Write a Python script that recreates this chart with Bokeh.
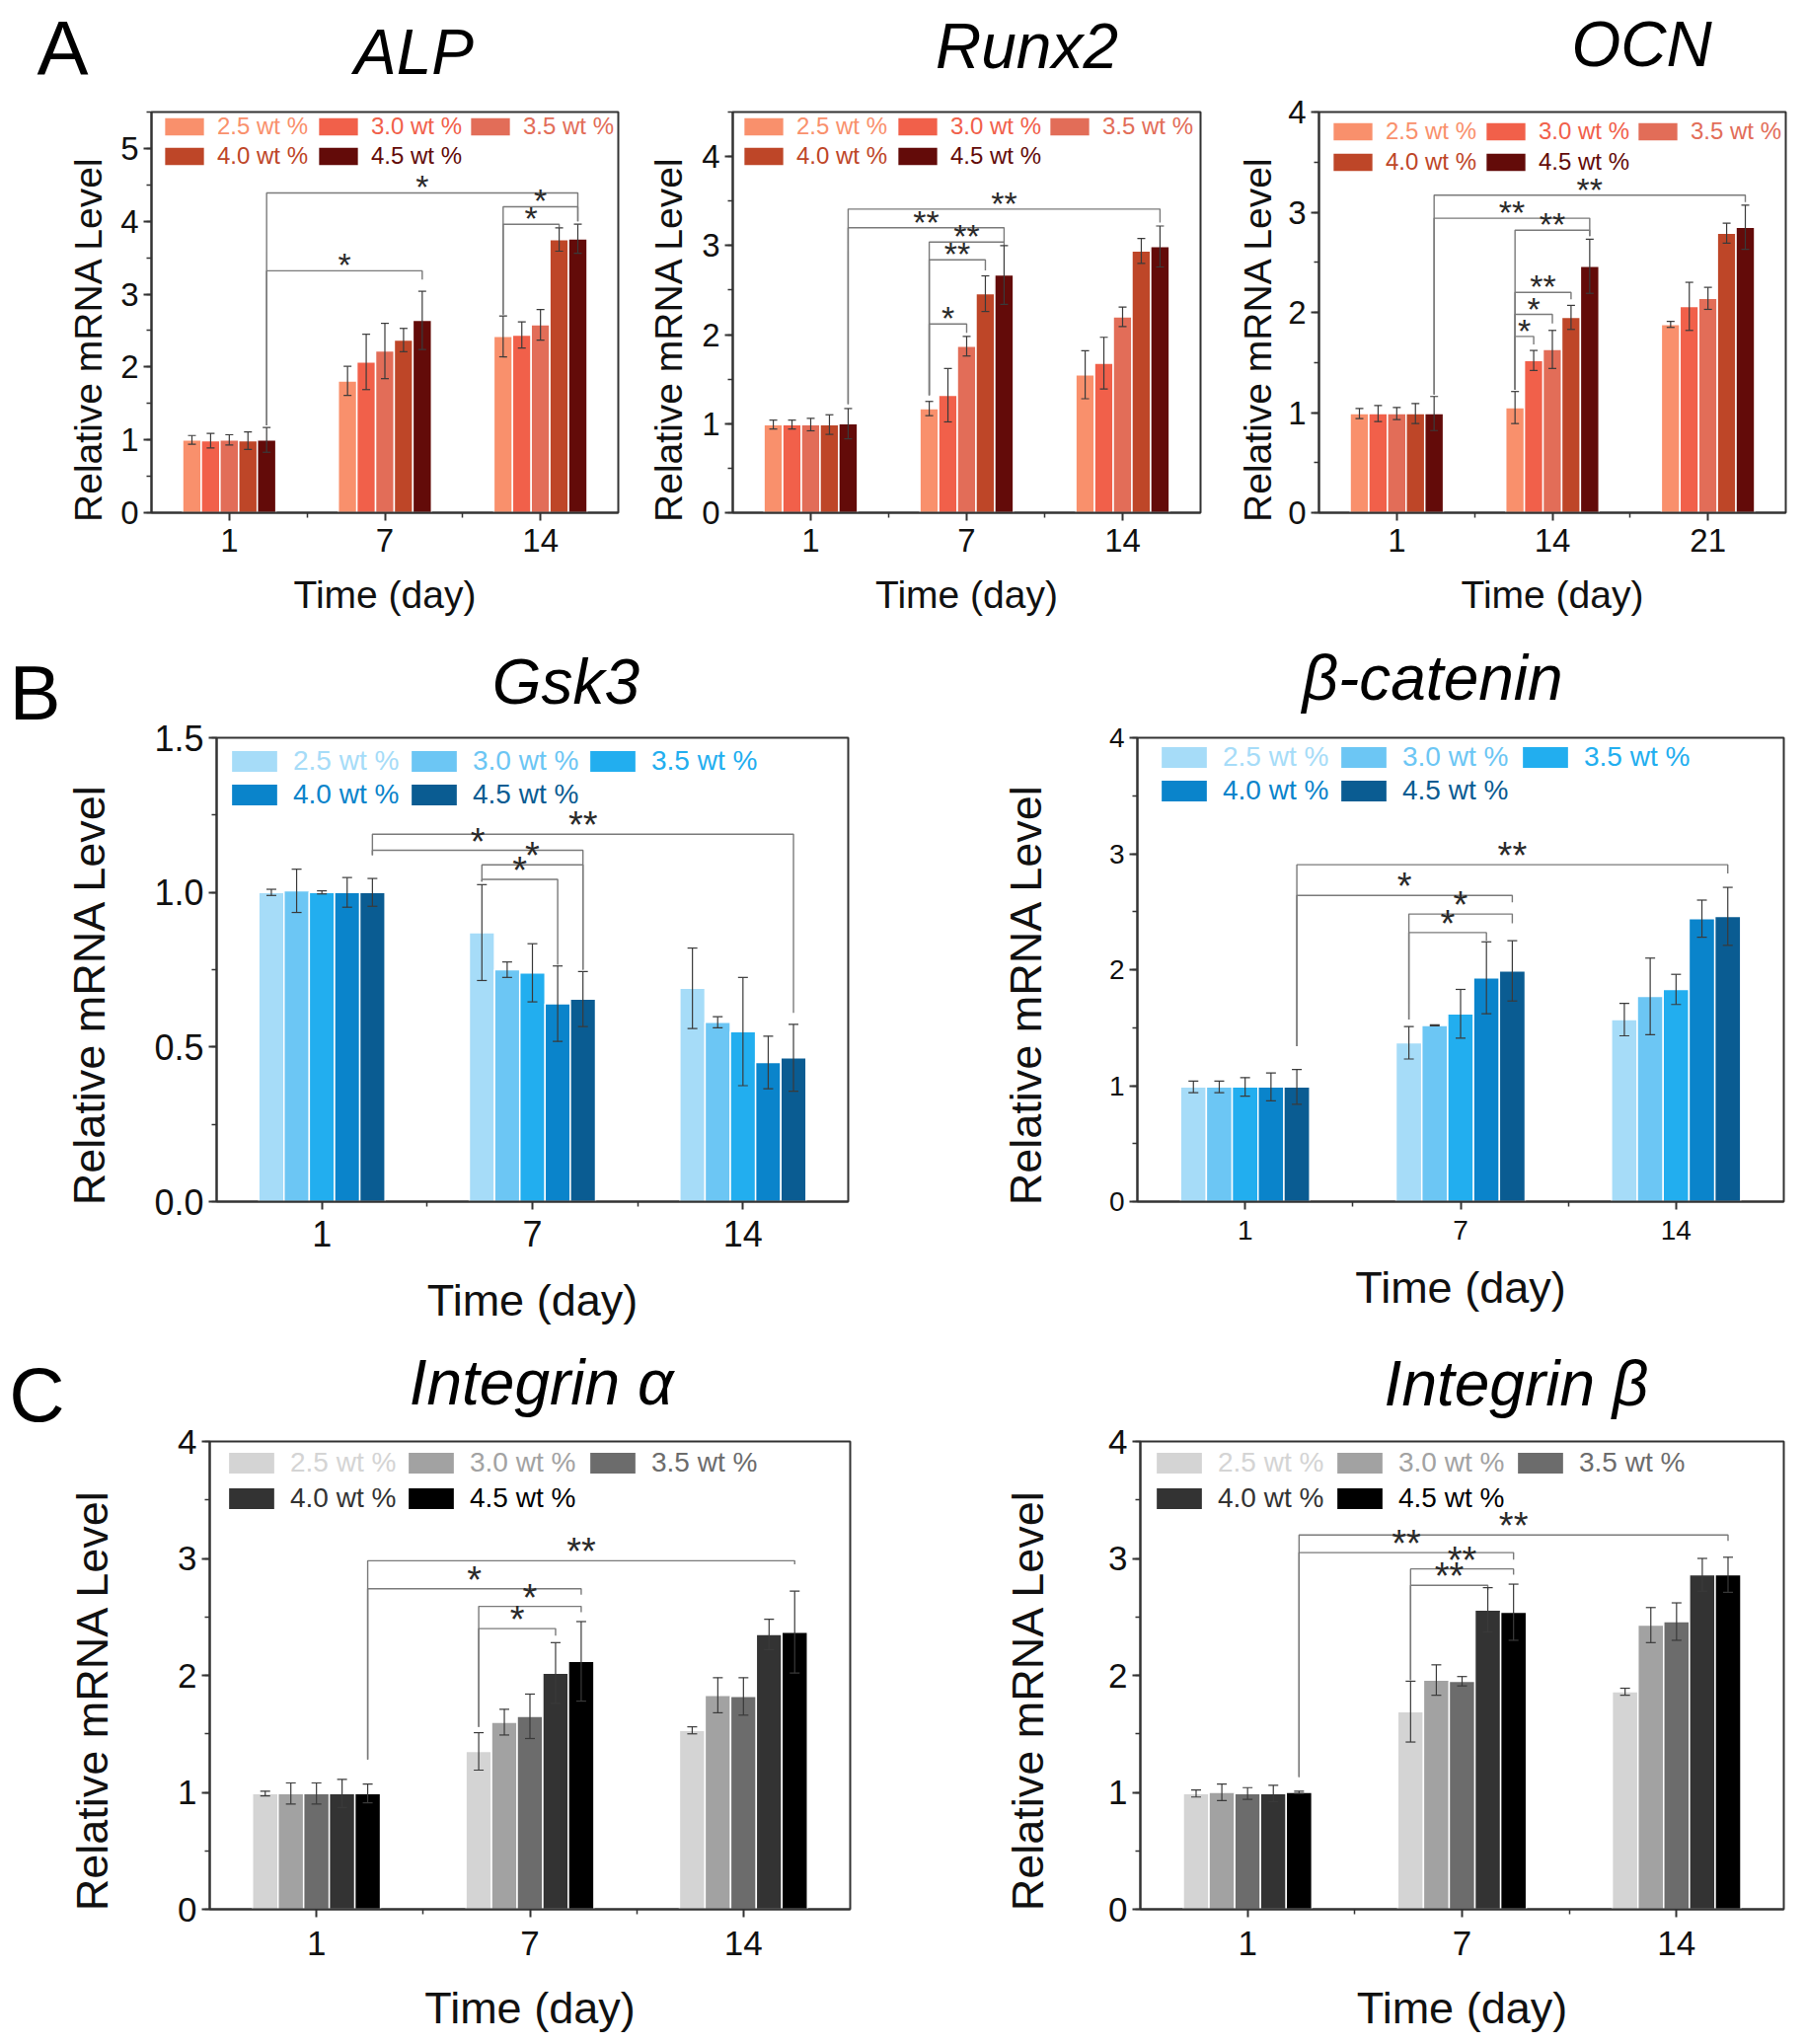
import numpy as np
from bokeh.plotting import figure
from bokeh.models import (ColumnDataSource, Whisker, TeeHead, Legend, LegendItem,
                          FixedTicker, SingleIntervalTicker, Range1d, PrintfTickFormatter)
from bokeh.layouts import row, column
from bokeh.embed import file_html
from bokeh.resources import INLINE
from bokeh.core.properties import value

FONT = "Liberation Sans"
AX = "#333333"
W = 1828
NB = "\u00a0"

# ---------------- data ----------------
series = ["2.5 wt %", "3.0 wt %", "3.5 wt %", "4.0 wt %", "4.5 wt %"]
reds = ["#F9906C", "#F1604A", "#E26D58", "#BE4628", "#630B09"]
blues = ["#A6DCF8", "#6CC6F4", "#22AEEF", "#0A84CB", "#0A5C92"]
grays = ["#D4D4D4", "#A2A2A2", "#6C6C6C", "#333333", "#000000"]

days_std = ["1", "7", "14"]
days_ocn = ["1", "14", "21"]

# means[series][day], errs[series][day]
alp_mean = [[1.00, 1.81, 2.42], [0.99, 2.07, 2.44], [1.00, 2.22, 2.58], [0.99, 2.37, 3.75], [1.00, 2.64, 3.76]]
alp_err = [[0.06, 0.20, 0.28], [0.10, 0.38, 0.18], [0.07, 0.38, 0.21], [0.12, 0.16, 0.16], [0.17, 0.40, 0.20]]
# (day1, series1, day2, series2, bracket height, left end, right end, label)
alp_sig = [(0, 4, 1, 4, 3.32, 1.20, 3.20, "*"), (0, 4, 2, 4, 4.39, 1.20, 4.00, "*"),
           (2, 0, 2, 4, 4.20, 2.72, 4.00, "*"), (2, 0, 2, 3, 3.96, 2.72, 3.92, "*")]

runx_mean = [[0.99, 1.17, 1.55], [0.99, 1.32, 1.68], [0.99, 1.87, 2.20], [0.99, 2.46, 2.94], [1.00, 2.67, 2.99]]
runx_err = [[0.05, 0.08, 0.27], [0.05, 0.30, 0.29], [0.07, 0.11, 0.11], [0.11, 0.20, 0.14], [0.17, 0.33, 0.23]]
runx_sig = [(0, 4, 2, 4, 3.41, 1.22, 3.26, "**"), (0, 4, 1, 4, 3.20, 1.22, 3.04, "**"),
            (1, 0, 1, 4, 3.04, 1.32, 3.00, "**"), (1, 0, 1, 3, 2.84, 1.32, 2.72, "**"),
            (1, 0, 1, 2, 2.12, 1.32, 2.02, "*")]

ocn_mean = [[0.99, 1.05, 1.88], [0.99, 1.52, 2.06], [0.99, 1.63, 2.14], [0.99, 1.95, 2.79], [0.99, 2.46, 2.85]]
ocn_err = [[0.05, 0.16, 0.03], [0.08, 0.10, 0.24], [0.06, 0.19, 0.11], [0.10, 0.12, 0.10], [0.17, 0.27, 0.22]]
ocn_sig = [(0, 4, 2, 4, 3.17, 1.18, 3.10, "**"), (0, 4, 1, 4, 2.94, 1.18, 2.76, "**"),
           (1, 0, 1, 4, 2.82, 1.23, 2.76, "**"), (1, 0, 1, 3, 2.20, 1.23, 2.13, "**"),
           (1, 0, 1, 2, 1.98, 1.23, 1.89, "*"), (1, 0, 1, 1, 1.76, 1.23, 1.68, "*")]

gsk_mean = [[1.00, 0.87, 0.69], [1.005, 0.75, 0.58], [1.00, 0.74, 0.55], [1.00, 0.64, 0.45], [1.00, 0.655, 0.465]]
gsk_err = [[0.01, 0.155, 0.13], [0.07, 0.025, 0.018], [0.005, 0.094, 0.175], [0.048, 0.122, 0.085], [0.045, 0.089, 0.108]]
gsk_sig = [(0, 4, 2, 4, 1.188, 1.12, 0.61, "**"), (0, 4, 1, 4, 1.136, 1.12, 0.75, "*"),
           (1, 0, 1, 4, 1.089, 1.035, 0.75, "*"), (1, 0, 1, 3, 1.042, 1.035, 0.766, "*")]

bcat_mean = [[0.99, 1.37, 1.57], [0.99, 1.52, 1.77], [0.99, 1.62, 1.83], [0.99, 1.93, 2.44], [0.99, 1.99, 2.46]]
bcat_err = [[0.05, 0.14, 0.14], [0.05, 0.005, 0.33], [0.08, 0.21, 0.13], [0.12, 0.31, 0.16], [0.15, 0.26, 0.25]]
bcat_sig = [(0, 4, 2, 4, 2.905, 1.34, 2.83, "**"), (0, 4, 1, 4, 2.64, 1.34, 2.58, "*"),
            (1, 0, 1, 4, 2.48, 1.57, 2.40, "*"), (1, 0, 1, 3, 2.32, 1.57, 2.25, "*")]

inta_mean = [[0.99, 1.35, 1.53], [0.99, 1.60, 1.83], [0.99, 1.65, 1.82], [0.99, 2.02, 2.35], [0.99, 2.12, 2.37]]
inta_err = [[0.02, 0.16, 0.03], [0.09, 0.11, 0.15], [0.09, 0.19, 0.16], [0.12, 0.26, 0.13], [0.08, 0.34, 0.35]]
inta_sig = [(0, 4, 2, 4, 2.98, 1.28, 2.95, "**"), (0, 4, 1, 4, 2.74, 1.28, 2.69, "*"),
            (1, 0, 1, 4, 2.59, 1.56, 2.54, "*"), (1, 0, 1, 3, 2.40, 1.56, 2.34, "*")]

intb_mean = [[0.99, 1.69, 1.86], [1.00, 1.96, 2.43], [0.99, 1.95, 2.46], [0.99, 2.56, 2.86], [1.00, 2.54, 2.86]]
intb_err = [[0.03, 0.26, 0.03], [0.07, 0.13, 0.15], [0.05, 0.04, 0.16], [0.07, 0.19, 0.14], [0.01, 0.24, 0.15]]
intb_sig = [(0, 4, 2, 4, 3.20, 1.13, 3.15, "**"), (0, 4, 1, 4, 3.05, 1.13, 2.99, "**"),
            (1, 0, 1, 4, 2.91, 1.96, 2.86, "**"), (1, 0, 1, 3, 2.77, 1.96, 2.73, "**")]

# ---------------- styles / layout ----------------
rowA = dict(tick_fs=33, axis_fs=39, leg_fs=24, gw=51, gh=24, leg_st=8,
            star_fs=34, star_off=-6, cap=8, xstand=8, xlab_stand=19, fmt=None, ypad=5)
rowB = dict(tick_fs=36, axis_fs=45, leg_fs=28, gw=59, gh=28, leg_st=10,
            star_fs=38, star_off=-9, cap=10, xstand=11, xlab_stand=26, fmt=None, ypad=4)

panels = [
    dict(name="ALP", days=days_std, mean=alp_mean, err=alp_err, sig=alp_sig, colors=reds, ymax=5.5, yint=1,
         border=(153, 14, 21, 118), frame=(473, 409), ylab=8,
         cols=[8, 164, 318], rows=[5, 35], st=rowA),
    dict(name="Runx2", days=days_std, mean=runx_mean, err=runx_err, sig=runx_sig, colors=reds, ymax=4.5, yint=1,
         border=(102, 24, 21, 118), frame=(474, 409), ylab=9,
         cols=[6, 162, 316], rows=[5, 35], st=rowA),
    dict(name="OCN", days=days_ocn, mean=ocn_mean, err=ocn_err, sig=ocn_sig, colors=reds, ymax=4, yint=1,
         border=(96, 19, 19, 121), frame=(473, 408), ylab=6,
         cols=[9, 164, 318], rows=[9, 40], st=rowA),
    dict(name="Gsk3", days=days_std, mean=gsk_mean, err=gsk_err, sig=gsk_sig, colors=blues, ymax=1.5, yint=0.5,
         border=(148, 101, 22, 126), frame=(649, 472), ylab=37,
         cols=[9, 191, 372], rows=[11, 45], st=dict(rowB, fmt="%.1f")),
    dict(name="β-catenin", days=days_std, mean=bcat_mean, err=bcat_err, sig=bcat_sig, colors=blues, ymax=4, yint=1,
         border=(192, 21, 19, 125), frame=(655, 476), ylab=56,
         cols=[18, 200, 384], rows=[11, 45], st=dict(rowB, tick_fs=28, xlab_stand=20)),
    dict(name="Integrin α", days=days_std, mean=inta_mean, err=inta_err, sig=inta_sig, colors=grays, ymax=4, yint=1,
         border=(141, 99, 22, 132), frame=(655, 476), ylab=58,
         cols=[13, 195, 379], rows=[9, 45], st=dict(rowB, tick_fs=35, xstand=14, xlab_stand=25)),
    dict(name="Integrin β", days=days_std, mean=intb_mean, err=intb_err, sig=intb_sig, colors=grays, ymax=4, yint=1,
         border=(195, 21, 19, 134), frame=(652, 477), ylab=53,
         cols=[10, 193, 376], rows=[10, 46], st=dict(rowB, tick_fs=35, xstand=14, xlab_stand=25)),
]

# text strips: (width, height, [(text, centre x, y from strip top, size, style)])
strips = {
    "hA": (W, 92, [("A", 63, 48, 78, "normal"), ("ALP", 419, 52, 64, "italic"),
                   ("Runx2", 1040, 46, 64, "italic"), ("OCN", 1663, 44, 64, "italic")]),
    "lB": (62, 705, [("B", 35, 61, 78, "normal")]),
    "hB": (W - 62, 85, [("Gsk3", 511, 50, 64, "italic"), ("β-catenin", 1389, 46, 64, "italic")]),
    "lC": (65, 723, [("C", 37, 67, 78, "normal")]),
    "hC": (W - 65, 93, [("Integrin α", 483, 55, 64, "italic"), ("Integrin β", 1471, 56, 64, "italic")]),
}


def strip(wd, h, items):
    p = figure(width=wd, height=h, x_range=Range1d(0, wd), y_range=Range1d(0, h),
               output_backend="svg", toolbar_location=None, min_border=0, title=None,
               x_axis_location=None, y_axis_location=None)
    p.outline_line_color = None
    p.background_fill_color = "white"
    p.border_fill_color = "white"
    p.grid.visible = False
    for (txt, x, y, size, style) in items:
        p.text(x=[x], y=[h - y], text=[txt], text_font=value(FONT), text_font_size=f"{size}px",
               text_font_style=style, text_color="black", text_align="center", text_baseline="alphabetic")
    return p


def build(P):
    s = P["st"]
    bl, br, bt, bb = P["border"]
    fw, fh = P["frame"]
    ndays = len(P["days"])
    p = figure(width=bl + fw + br, height=bt + fh + bb,
               x_range=Range1d(0, ndays), y_range=Range1d(0, P["ymax"]),
               output_backend="svg", toolbar_location=None, title=None,
               min_border_left=bl, min_border_right=br, min_border_top=bt, min_border_bottom=bb)
    p.background_fill_color = "white"
    p.border_fill_color = "white"
    p.outline_line_color = AX
    p.outline_line_width = 2
    p.xgrid.visible = False
    p.ygrid.visible = False

    centers = np.arange(ndays) + 0.5
    bw = 0.12

    def bx(g, i):
        return centers[g] + (i - 2) * bw

    for i in range(5):
        m = np.array(P["mean"][i], dtype=float)
        e = np.array(P["err"][i], dtype=float)
        src = ColumnDataSource(dict(x=centers + (i - 2) * bw, top=m, upper=m + e, lower=m - e))
        r = p.vbar(x="x", top="top", bottom=0, width=bw, source=src,
                   fill_color=P["colors"][i], line_color="white", line_width=1.5)
        w = Whisker(base="x", upper="upper", lower="lower", source=src,
                    line_color="#3a3a3a", line_width=1.2, level="annotation",
                    upper_head=TeeHead(size=s["cap"], line_color="#3a3a3a", line_width=1.2),
                    lower_head=TeeHead(size=s["cap"], line_color="#3a3a3a", line_width=1.2))
        p.add_layout(w)
        col = i % 3
        rw = i // 3
        item_h = max(s["gh"], round(1.12 * s["leg_fs"]))
        leg = Legend(items=[LegendItem(label=series[i], renderers=[r])],
                     location=(P["cols"][col], fh - P["rows"][rw] - item_h),
                     orientation="vertical", padding=0, margin=0, spacing=0,
                     glyph_width=s["gw"], glyph_height=s["gh"], label_standoff=s["leg_st"],
                     label_text_font=FONT, label_text_font_size=f"{s['leg_fs']}px",
                     label_text_color=P["colors"][i], border_line_color=None,
                     background_fill_alpha=0)
        p.add_layout(leg)

    xs, ys, tx, ty, tt = [], [], [], [], []
    for (g1, s1, g2, s2, h, e1, e2, lab) in P["sig"]:
        x1, x2 = bx(g1, s1), bx(g2, s2)
        xs.append([x1, x1, x2, x2])
        ys.append([e1, h, h, e2])
        tx.append((x1 + x2) / 2)
        ty.append(h)
        tt.append(lab)
    p.multi_line(xs, ys, line_color="#7a7a7a", line_width=1.4)
    p.text(x=tx, y=ty, text=tt, text_font=value(FONT), text_font_size=f"{s['star_fs']}px",
           text_color="#2a2a2a", text_align="center", text_baseline="alphabetic", y_offset=s["star_off"])

    p.xaxis.ticker = FixedTicker(ticks=list(centers), minor_ticks=list(np.arange(1, ndays, dtype=float)))
    p.xaxis.major_label_overrides = {float(c): d for c, d in zip(centers, P["days"])}
    p.yaxis.ticker = SingleIntervalTicker(interval=P["yint"], num_minor_ticks=2)
    if s["fmt"]:
        p.yaxis.formatter = PrintfTickFormatter(format=s["fmt"])
    p.xaxis.axis_label = "Time (day)"
    # trailing no-break spaces push the label a little below the frame centre, as in the original
    p.yaxis.axis_label = "Relative mRNA Level" + NB * s["ypad"]
    for ax in (p.xaxis[0], p.yaxis[0]):
        ax.axis_line_color = AX
        ax.axis_line_width = 2
        ax.major_tick_line_color = AX
        ax.major_tick_line_width = 2
        ax.major_tick_out = 8
        ax.major_tick_in = 0
        ax.minor_tick_line_color = AX
        ax.minor_tick_line_width = 1.5
        ax.minor_tick_out = 5
        ax.minor_tick_in = 0
        ax.major_label_text_font = FONT
        ax.major_label_text_font_size = f"{s['tick_fs']}px"
        ax.major_label_text_color = "#111111"
        ax.axis_label_text_font = FONT
        ax.axis_label_text_font_size = f"{s['axis_fs']}px"
        ax.axis_label_text_font_style = "normal"
        ax.axis_label_text_color = "#111111"
    p.xaxis.major_label_standoff = s["xstand"]
    p.xaxis.axis_label_standoff = s["xlab_stand"]
    p.yaxis.major_label_standoff = 5
    p.yaxis.axis_label_standoff = P["ylab"]
    return p


figs = [build(P) for P in panels]
S = {k: strip(*v) for k, v in strips.items()}
layout = column(
    S["hA"],
    row(figs[0], figs[1], figs[2], spacing=0),
    row(S["lB"], column(S["hB"], row(figs[3], figs[4], spacing=0), spacing=0), spacing=0),
    row(S["lC"], column(S["hC"], row(figs[5], figs[6], spacing=0), spacing=0), spacing=0),
    spacing=0)

open("out.html", "w").write(file_html(layout, INLINE))
